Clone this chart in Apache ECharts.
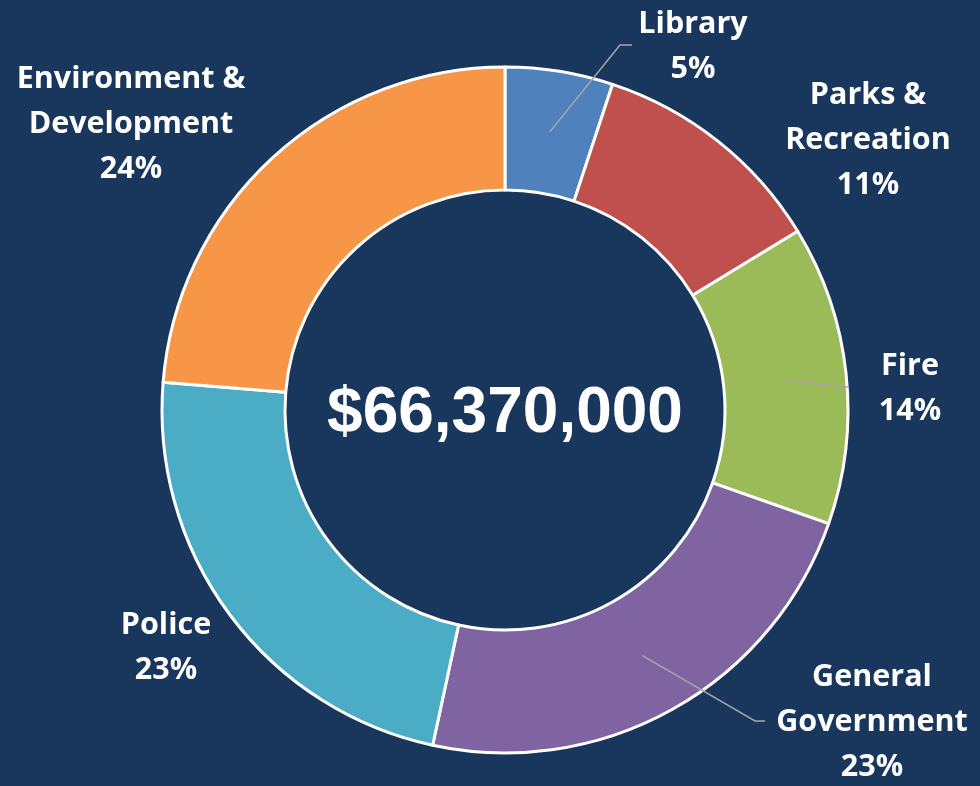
<!DOCTYPE html>
<html>
<head>
<meta charset="utf-8">
<script src="https://cdn.jsdelivr.net/npm/echarts@6/dist/echarts.min.js"></script>
<style>
  html, body { margin: 0; padding: 0; background: #19365d; }
  #main { width: 980px; height: 786px; }
</style>
</head>
<body>
<div id="main"></div>
<script>
// budget by department, in $ millions
var categories = ['Library', 'Parks &\nRecreation', 'Fire', 'General\nGovernment', 'Police', 'Environment &\nDevelopment'];
var amounts = [3.37, 7.43, 9.36, 15.27, 15.20, 15.74];
var colors = ['#4f81bd', '#c0504d', '#9bbb59', '#8064a2', '#4bacc6', '#f79646'];

// label placement (text block centre) and leader lines
var labelPos = [[693, 47], [868, 140], [910, 389], [872, 722], [166, 648], [131, 124]];
var linePts = [[[620, 45], [632, 45]], null, [[848, 387], [848, 387]], [[755, 721], [765, 721]], null, null];

var cx = 505, cy = 410, rIn = 220, rOut = 343;

var total = 0;
amounts.forEach(function (v) { total += v; });
var totalText = '$' + Math.round(total * 1e6).toLocaleString('en-US');

var chart = echarts.init(document.getElementById('main'));
chart.setOption({
  backgroundColor: '#19365d',
  animation: false,
  graphic: [{
    type: 'text',
    x: cx,
    y: cy + 4,
    style: {
      text: totalText,
      fill: '#ffffff',
      font: 'bold 64px "Liberation Sans", Arial, sans-serif',
      textAlign: 'center',
      textVerticalAlign: 'middle'
    }
  }],
  series: [{
    // coloured ring
    type: 'pie',
    z: 2,
    center: [cx, cy],
    radius: [rIn, rOut],
    startAngle: 90,
    clockwise: true,
    silent: true,
    itemStyle: { borderColor: '#ffffff', borderWidth: 3 },
    label: { show: false },
    labelLine: { show: false },
    data: categories.map(function (name, i) {
      return { name: name, value: amounts[i], itemStyle: { color: colors[i] } };
    })
  }, {
    // same ring, transparent, carries the labels so leader lines sit on top
    type: 'pie',
    z: 5,
    center: [cx, cy],
    radius: [rIn, rOut],
    startAngle: 90,
    clockwise: true,
    silent: true,
    percentPrecision: 0,
    avoidLabelOverlap: false,
    itemStyle: { color: 'rgba(0,0,0,0)', borderWidth: 0 },
    label: {
      show: true,
      position: 'outside',
      formatter: '{b}\n{d}%',
      color: '#ffffff',
      fontFamily: '"Open Sans", Lato, sans-serif',
      fontWeight: 'bold',
      fontSize: 30.5,
      lineHeight: 45,
      align: 'center'
    },
    labelLine: {
      show: true,
      lineStyle: { color: '#a6a6a6', width: 1.5 }
    },
    labelLayout: function (params) {
      var i = params.dataIndex;
      var out = {
        x: labelPos[i][0],
        y: labelPos[i][1],
        align: 'center',
        verticalAlign: 'middle'
      };
      var p = params.labelLinePoints;
      if (linePts[i] && p) {
        // start the leader line in the middle of the ring
        var k = ((rIn + rOut) / 2) / rOut;
        var sx = cx + (p[0][0] - cx) * k;
        var sy = cy + (p[0][1] - cy) * k;
        out.labelLinePoints = [[sx, sy], linePts[i][0], linePts[i][1]];
      }
      return out;
    },
    data: categories.map(function (name, i) {
      return {
        name: name,
        value: amounts[i],
        labelLine: { show: !!linePts[i] }
      };
    })
  }]
});
</script>
</body>
</html>
